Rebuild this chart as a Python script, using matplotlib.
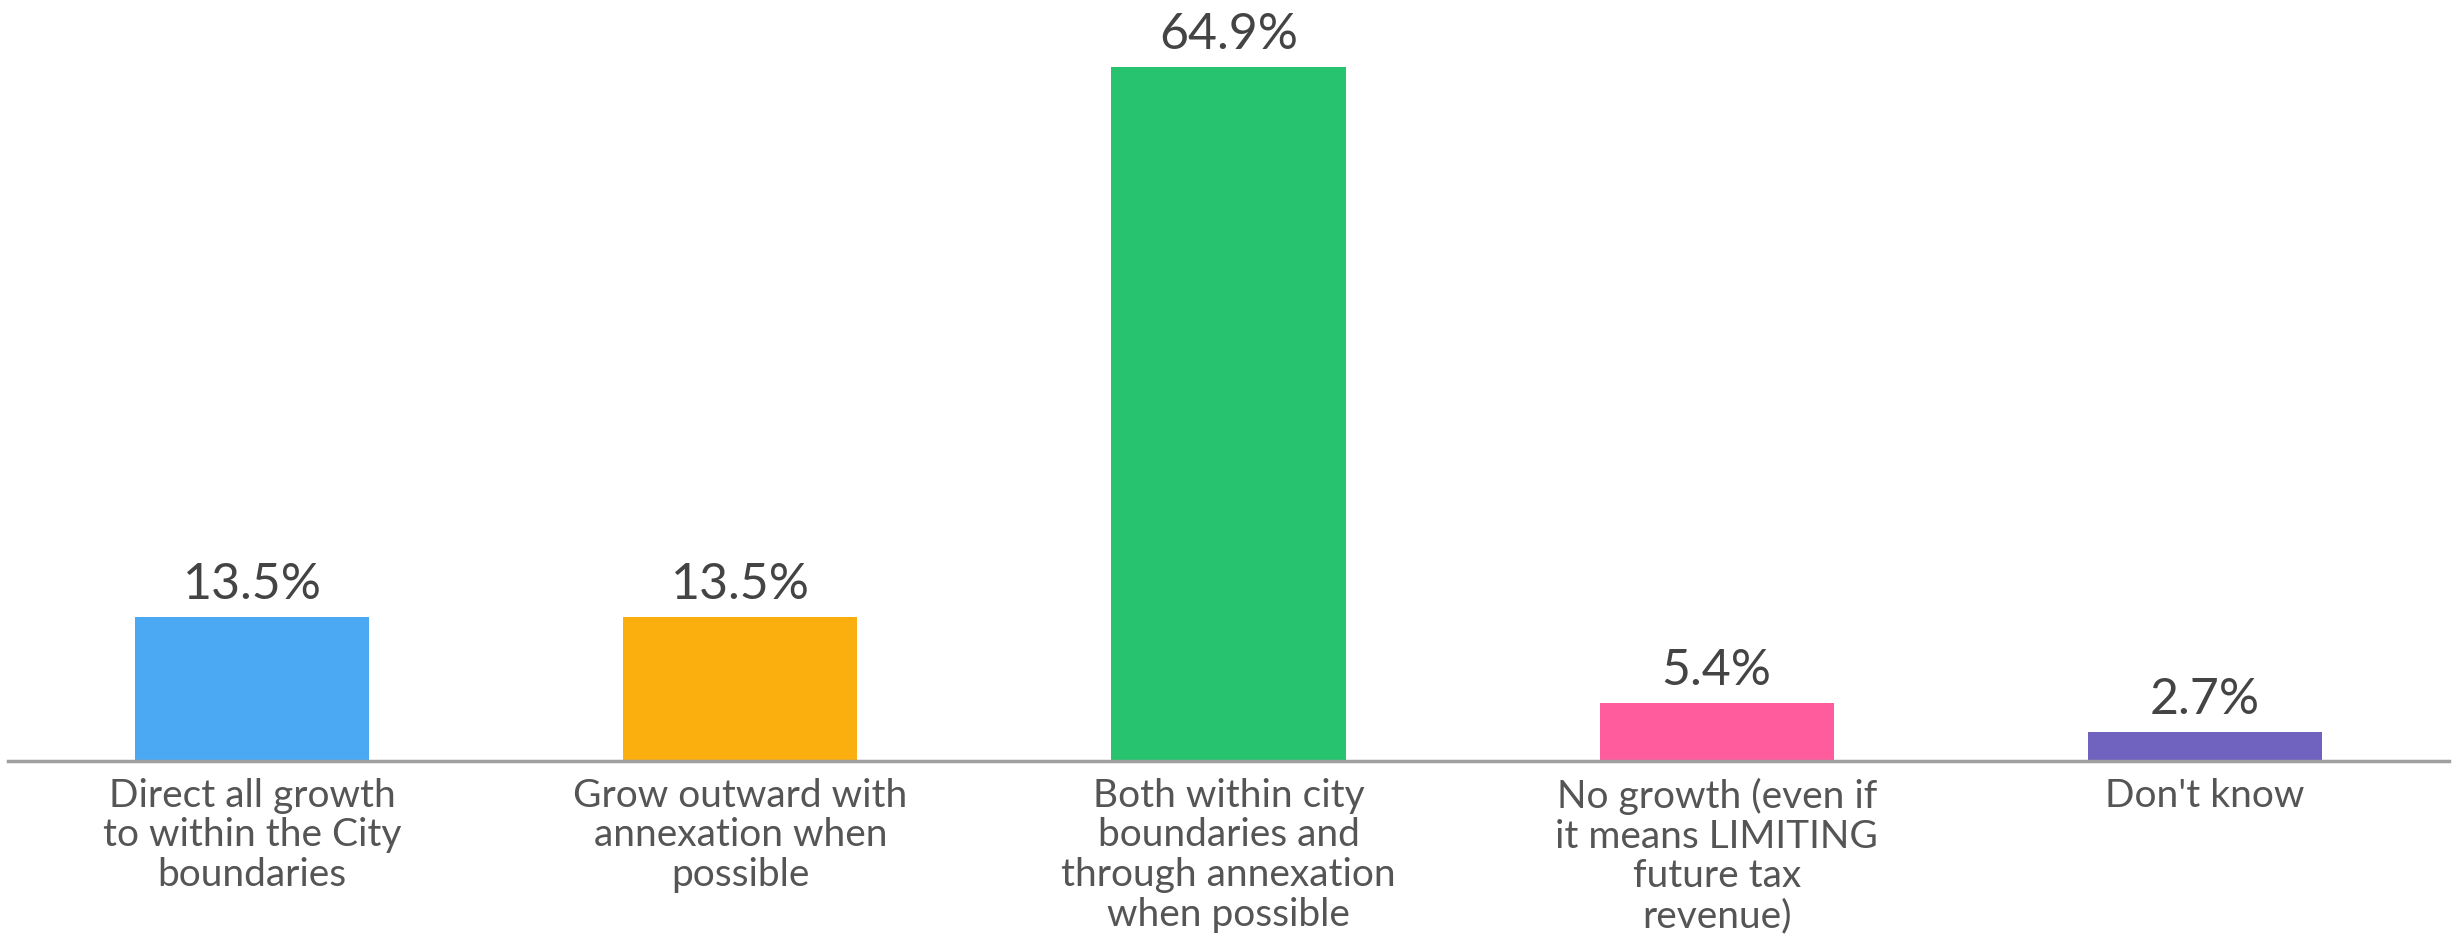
import matplotlib
matplotlib.use("Agg")
import matplotlib.pyplot as plt

categories = [
    "Direct all growth\nto within the City\nboundaries",
    "Grow outward with\nannexation when\npossible",
    "Both within city\nboundaries and\nthrough annexation\nwhen possible",
    "No growth (even if\nit means LIMITING\nfuture tax\nrevenue)",
    "Don't know",
]
values = [13.5, 13.5, 64.9, 5.4, 2.7]
colors = ["#4AA9F2", "#FAAF0E", "#28C36F", "#FE5C9D", "#7063BF"]

plt.rcParams["font.family"] = ["Lato", "DejaVu Sans"]

fig = plt.figure(figsize=(24.59, 9.52), dpi=100)
ax = fig.add_axes([8 / 2459, 191 / 952, 2441 / 2459, 748 / 952])

x = range(len(values))
ax.bar(x, values, width=0.48, color=colors, zorder=2)

for xi, v in zip(x, values):
    ax.annotate(f"{v:.1f}%", xy=(xi, v), xytext=(0, 13), textcoords="offset points",
                ha="center", va="baseline", fontsize=36, color="#444444")

ax.set_xlim(-0.5, 4.5)
ax.set_ylim(0, 70)
ax.set_xticks(list(x))
ax.set_xticklabels(categories, fontsize=28, color="#555555", linespacing=1.13)
ax.tick_params(axis="x", length=0, pad=12)
ax.set_yticks([])
for side in ("left", "right", "top"):
    ax.spines[side].set_visible(False)
ax.spines["bottom"].set_color("#A0A0A0")
ax.spines["bottom"].set_linewidth(2.5)
ax.spines["bottom"].set_zorder(3)

fig.savefig("out.png", dpi=100, facecolor="white")
